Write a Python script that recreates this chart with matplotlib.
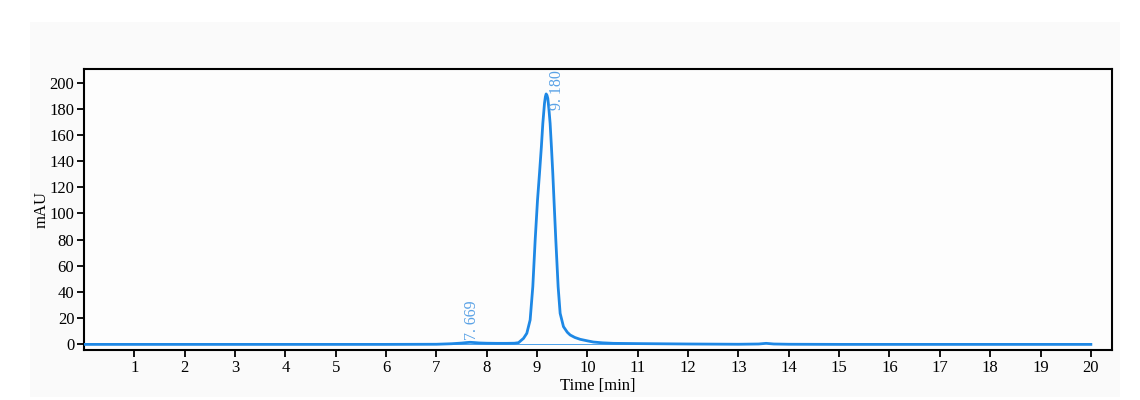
import matplotlib
matplotlib.use("Agg")
import matplotlib.pyplot as plt
from matplotlib.patches import Rectangle

# --- data ---
time_min = [0.0, 2.0, 4.0, 6.0, 7.0, 7.3, 7.5, 7.6, 7.669, 7.75, 7.85, 8.0, 8.2, 8.4, 8.55,
            8.631, 8.73, 8.796, 8.862, 8.915, 8.962, 9.008, 9.048, 9.085, 9.114, 9.147,
            9.165, 9.180, 9.197, 9.213, 9.235, 9.259, 9.285, 9.312, 9.342, 9.372, 9.418,
            9.458, 9.524, 9.60, 9.657, 9.75, 9.855, 10.0, 10.12, 10.3, 10.52, 11.0, 12.0,
            13.0, 13.4, 13.55, 13.7, 14.0, 15.0, 17.0, 19.0, 20.0]
signal_mau = [-0.3, -0.3, -0.3, -0.3, -0.2, 0.2, 0.7, 1.1, 1.3, 1.1, 0.8, 0.6, 0.5, 0.5, 0.6,
              1.0, 4.3, 8.2, 18.4, 43.9, 79.7, 110.0, 130.8, 151.0, 169.0, 184.4,
              189.5, 191.6, 190.5, 188.2, 180.0, 169.0, 151.0, 130.8, 105.0, 79.7, 43.9,
              23.5, 13.3, 9.0, 6.9, 5.0, 3.6, 2.4, 1.5, 0.9, 0.5, 0.3, 0.0,
              -0.2, 0.0, 0.5, 0.0, -0.2, -0.3, -0.3, -0.3, -0.3]

peak_times = [7.669, 9.180]
peak_labels = ["7. 669", "9. 180"]
peak_label_pos = [(7.71, 3.0), (9.40, 179.0)]

x_ticks = list(range(1, 21))
y_ticks = list(range(0, 201, 20))

plt.rcParams['font.family'] = ['Liberation Serif', 'DejaVu Serif']

fig = plt.figure(figsize=(11.4, 4.0), dpi=100, facecolor='white')
fig.patches.append(Rectangle((30/1140, 3/400), (1120-30)/1140, (378-3)/400,
                             transform=fig.transFigure, facecolor='#fafafa',
                             edgecolor='none', zorder=-10))
ax = fig.add_axes([84/1140, 1 - 350/400, (1112-84)/1140, (350-69)/400])
ax.set_facecolor('#fdfdfd')

line_color = '#1e88e5'
label_color = '#5aa2e6'

# integration baseline
ax.plot([7.3, 11.0], [0.0, 0.0], color=line_color, lw=0.7, alpha=0.8, zorder=2)
ax.plot(time_min, signal_mau, color=line_color, lw=2.0, solid_joinstyle='round', zorder=3)

for (lx, ly), lab in zip(peak_label_pos, peak_labels):
    ax.text(lx, ly, lab, rotation=90, ha='center', va='bottom', color=label_color,
            fontsize=11.5, clip_on=False, zorder=4)

ax.set_xlim(0, 20.42)
ax.set_ylim(-4.6, 210.7)
ax.set_xticks(x_ticks)
ax.set_yticks(y_ticks)
ax.tick_params(direction='out', length=5, width=1.3, labelsize=12, colors='black', pad=2)
for s in ax.spines.values():
    s.set_linewidth(1.5)
    s.set_color('black')

ax.set_xlabel('Time [min]', fontsize=12, labelpad=2)
ax.set_ylabel('mAU', fontsize=12, labelpad=0)

fig.savefig('out.png', dpi=100, facecolor='white')
